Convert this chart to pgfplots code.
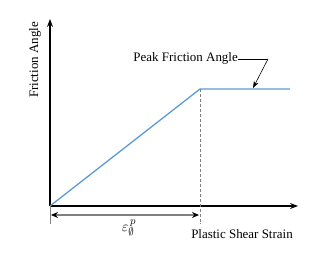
\documentclass[border=0pt]{standalone}
\usepackage{pgfplots}
\pgfplotsset{compat=1.18}
\usepackage{fontspec}
\setmainfont{Liberation Serif}
\usetikzlibrary{arrows.meta}
\definecolor{lineblue}{RGB}{91,155,213}
\begin{document}
\begin{tikzpicture}
\begin{axis}[
  width=314bp, height=253bp, scale only axis,
  xmin=-50, xmax=264, ymin=-47, ymax=206,
  hide axis, clip=false,
]
\path (rel axis cs:0,0) rectangle (rel axis cs:1,1);
% axes
\draw[line width=1.2pt, -{Stealth[length=8pt,width=6pt]}] (axis cs:0,0) -- (axis cs:248,0);
\draw[line width=1.2pt, -{Stealth[length=8pt,width=6pt]}] (axis cs:0,0) -- (axis cs:0,187);
% data
\addplot[lineblue, line width=1.3pt] coordinates {(0,0) (150,117) (240,117)};
% dashed marker
\draw[gray, dashed, line width=1pt, dash pattern=on 3pt off 2pt] (axis cs:150,117) -- (axis cs:150,-18);
\draw[gray, line width=1pt] (axis cs:0,0) -- (axis cs:0,-18);
% dimension
\draw[gray, line width=1.3pt, {Stealth[length=7pt,width=6pt,black]}-{Stealth[length=7pt,width=6pt,black]}] (axis cs:1,-9) -- (axis cs:149,-9);
\node[font=\fontsize{15}{16}\selectfont] at (axis cs:79,-22) {$\varepsilon^{\,p}_{\emptyset}$};
% labels
\node[font=\fontsize{13}{15}\selectfont] at (axis cs:192,-28) {Plastic Shear Strain};
\node[font=\fontsize{13}{15}\selectfont, rotate=90] at (axis cs:-15,146) {Friction Angle};
\node[font=\fontsize{13}{15}\selectfont, anchor=east, inner sep=0pt] (pk) at (axis cs:188,148) {Peak Friction Angle};
\draw[black, line width=0.6pt] (axis cs:188,147) -- (axis cs:218,147);
\draw[black, line width=0.6pt, -{Stealth[length=7pt,width=5pt]}] (axis cs:218,147) -- (axis cs:203,118);
\end{axis}
\end{tikzpicture}
\end{document}
